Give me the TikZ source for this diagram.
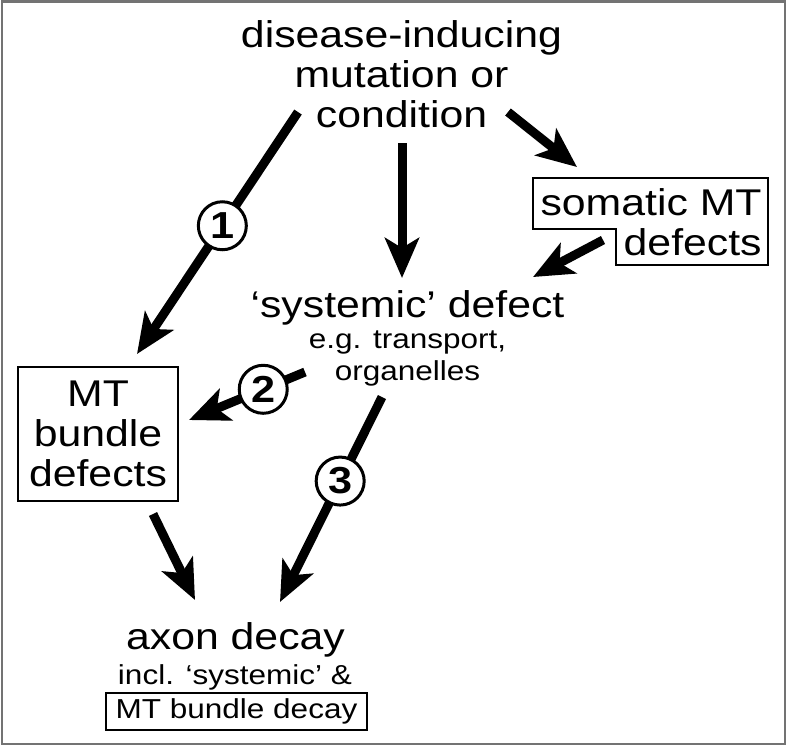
\documentclass[tikz,border=0pt]{standalone}
\usepackage{fontspec}
\setmainfont{Liberation Sans}[FakeStretch=1.15]
\usetikzlibrary{arrows.meta}
\tikzset{>={Stealth[length=20pt,width=17pt,inset=5pt]}}
\tikzset{
  bigText/.style={font=\fontsize{18.6}{20}\selectfont, inner sep=0pt, align=center},
  smallText/.style={font=\fontsize{13.7}{16}\selectfont, inner sep=0pt, align=center},
  defectBox/.style={draw, line width=1pt, inner sep=0pt},
  flowArrow/.style={->, line width=4.5pt},
  numCircle/.style={circle, draw, line width=1.5pt, fill=white, inner sep=0pt,
    minimum size=24pt, font=\bfseries\fontsize{18.8}{20}\selectfont}
}

\begin{document}
\begin{tikzpicture}[x=0.5pt,y=-0.5pt]
    \useasboundingbox (0,0) rectangle (787,746);
    \draw[black!55, line width=1.2pt] (2,1.5) rectangle (785,744);
    % texts and boxes (base = last line)
    \node[bigText, anchor=base] (cause) at (401.5,127) {disease-inducing\\mutation or\\condition};
    \node[bigText, anchor=base east, align=right] (somatic) at (762,255) {somatic MT\\defects};
    \draw[line width=1pt] (533,178) -- (768,178) -- (768,265) -- (616,265) -- (616,229) -- (533,229) -- cycle;
    \node[bigText, anchor=base] (systemic) at (407.5,317) {`systemic' defect};
    \node[smallText, anchor=base] (sysNote) at (407.5,380) {e.g. transport,\\organelles};
    \node[defectBox, bigText, minimum width=80pt, minimum height=67pt] (mtBundle) at (98,434) {MT\\bundle\\defects};
    \node[bigText, anchor=base] (axon) at (235.5,649) {axon decay};
    \node[smallText, anchor=base] (incl) at (235,684) {incl. `systemic' \&};
    \node[defectBox, smallText, minimum width=130.5pt, minimum height=18.5pt] (bundleDecay) at (236.5,711.5) {MT bundle decay};
    % arrows
    \draw[flowArrow] ([shift={(-103.5,-15)}]cause.base) -- ([shift={(39,-12)}]mtBundle.north)
        node[numCircle, pos=0.47] {1};
    \draw[flowArrow] ([shift={(0.5,16)}]cause.base) -- ([shift={(-5.5,-39)}]systemic.base);
    \draw[flowArrow] ([shift={(106.5,-15)}]cause.base) -- ([shift={(-185,-88)}]somatic.base east);
    \draw[flowArrow] ([shift={(-159,-15)}]somatic.base east) -- ([shift={(125.5,-40)}]systemic.base);
    \draw[flowArrow] ([shift={(-102.5,-8)}]sysNote.base) -- ([shift={(10,-14)}]mtBundle.east)
        node[numCircle, pos=0.36] {2};
    \draw[flowArrow] ([shift={(-25.5,17)}]sysNote.base) -- ([shift={(44.5,-47)}]axon.base)
        node[numCircle, pos=0.41] {3};
    \draw[flowArrow] ([shift={(55,12)}]mtBundle.south) -- ([shift={(-40.5,-49)}]axon.base);
\end{tikzpicture}
\end{document}
